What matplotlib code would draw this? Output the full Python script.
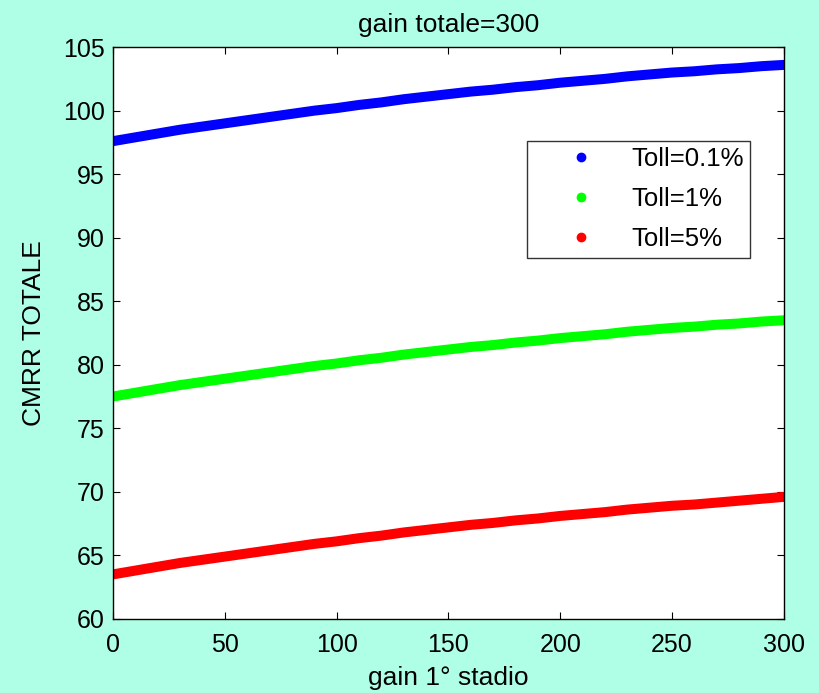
import matplotlib
matplotlib.use('Agg')
from matplotlib import pyplot as plt
from matplotlib.lines import Line2D

# gain of the first stage (x axis)
gain_1 = [0, 10, 20, 30, 40, 50, 60, 70, 80, 90, 100, 110, 120, 130, 140, 150,
          160, 170, 180, 190, 200, 210, 220, 230, 240, 250, 260, 270, 280, 290, 300]

# CMRR totale, one list per tolerance
cmrr_01 = [97.6, 97.9, 98.2, 98.5, 98.75, 99.0, 99.25, 99.5, 99.75, 100.0, 100.2,
           100.45, 100.65, 100.9, 101.1, 101.3, 101.5, 101.65, 101.85, 102.0, 102.2,
           102.35, 102.5, 102.7, 102.85, 103.0, 103.1, 103.25, 103.35, 103.5, 103.6]
cmrr_1 = [77.5, 77.8, 78.1, 78.4, 78.65, 78.9, 79.15, 79.4, 79.65, 79.9, 80.1,
          80.35, 80.55, 80.8, 81.0, 81.2, 81.4, 81.55, 81.75, 81.9, 82.1,
          82.25, 82.4, 82.6, 82.75, 82.9, 83.0, 83.15, 83.25, 83.4, 83.5]
cmrr_5 = [63.5, 63.8, 64.1, 64.4, 64.65, 64.9, 65.15, 65.4, 65.65, 65.9, 66.1,
          66.35, 66.55, 66.8, 67.0, 67.2, 67.4, 67.55, 67.75, 67.9, 68.1,
          68.25, 68.4, 68.6, 68.75, 68.9, 69.0, 69.15, 69.3, 69.45, 69.6]

labels = ['Toll=0.1%', 'Toll=1%', 'Toll=5%']
colors = ['#0000FF', '#00FF00', '#FF0000']

plt.rcParams['font.family'] = ['Liberation Sans', 'DejaVu Sans']

fig = plt.figure(figsize=(8.19, 6.93), dpi=100, facecolor='#AFFFE6')
ax = fig.add_axes([0.138, 0.107, 0.819, 0.825])
ax.set_facecolor('white')

for y, c in zip([cmrr_01, cmrr_1, cmrr_5], colors):
    ax.plot(gain_1, y, '-', color=c, linewidth=7.2, solid_capstyle='round')

ax.set_xlim(0, 300)
ax.set_ylim(60, 105)
ax.set_xticks(range(0, 301, 50))
ax.set_yticks(range(60, 106, 5))
ax.tick_params(direction='in', length=5, top=True, right=True, labelsize=18)
ax.tick_params(axis='x', pad=10)
ax.tick_params(axis='y', pad=6)
for s in ax.spines.values():
    s.set_linewidth(1.0)

ax.set_title('gain totale=300', fontsize=19, pad=11)
ax.set_xlabel('gain 1° stadio', fontsize=19, labelpad=7)
ax.set_ylabel('CMRR TOTALE', fontsize=19, labelpad=12)

handles = [Line2D([], [], linestyle='none', marker='o', markersize=6,
                  color=c) for c in colors]
leg = ax.legend(handles, labels, loc='upper left', bbox_to_anchor=(0.617, 0.836),
                borderaxespad=0, fontsize=18.5, frameon=True, fancybox=False,
                handlelength=3.7, handletextpad=0.1, borderpad=0.25,
                labelspacing=0.62)
leg.get_frame().set_edgecolor('black')
leg.get_frame().set_linewidth(1.0)

fig.savefig('out.png', dpi=100, facecolor=fig.get_facecolor())
